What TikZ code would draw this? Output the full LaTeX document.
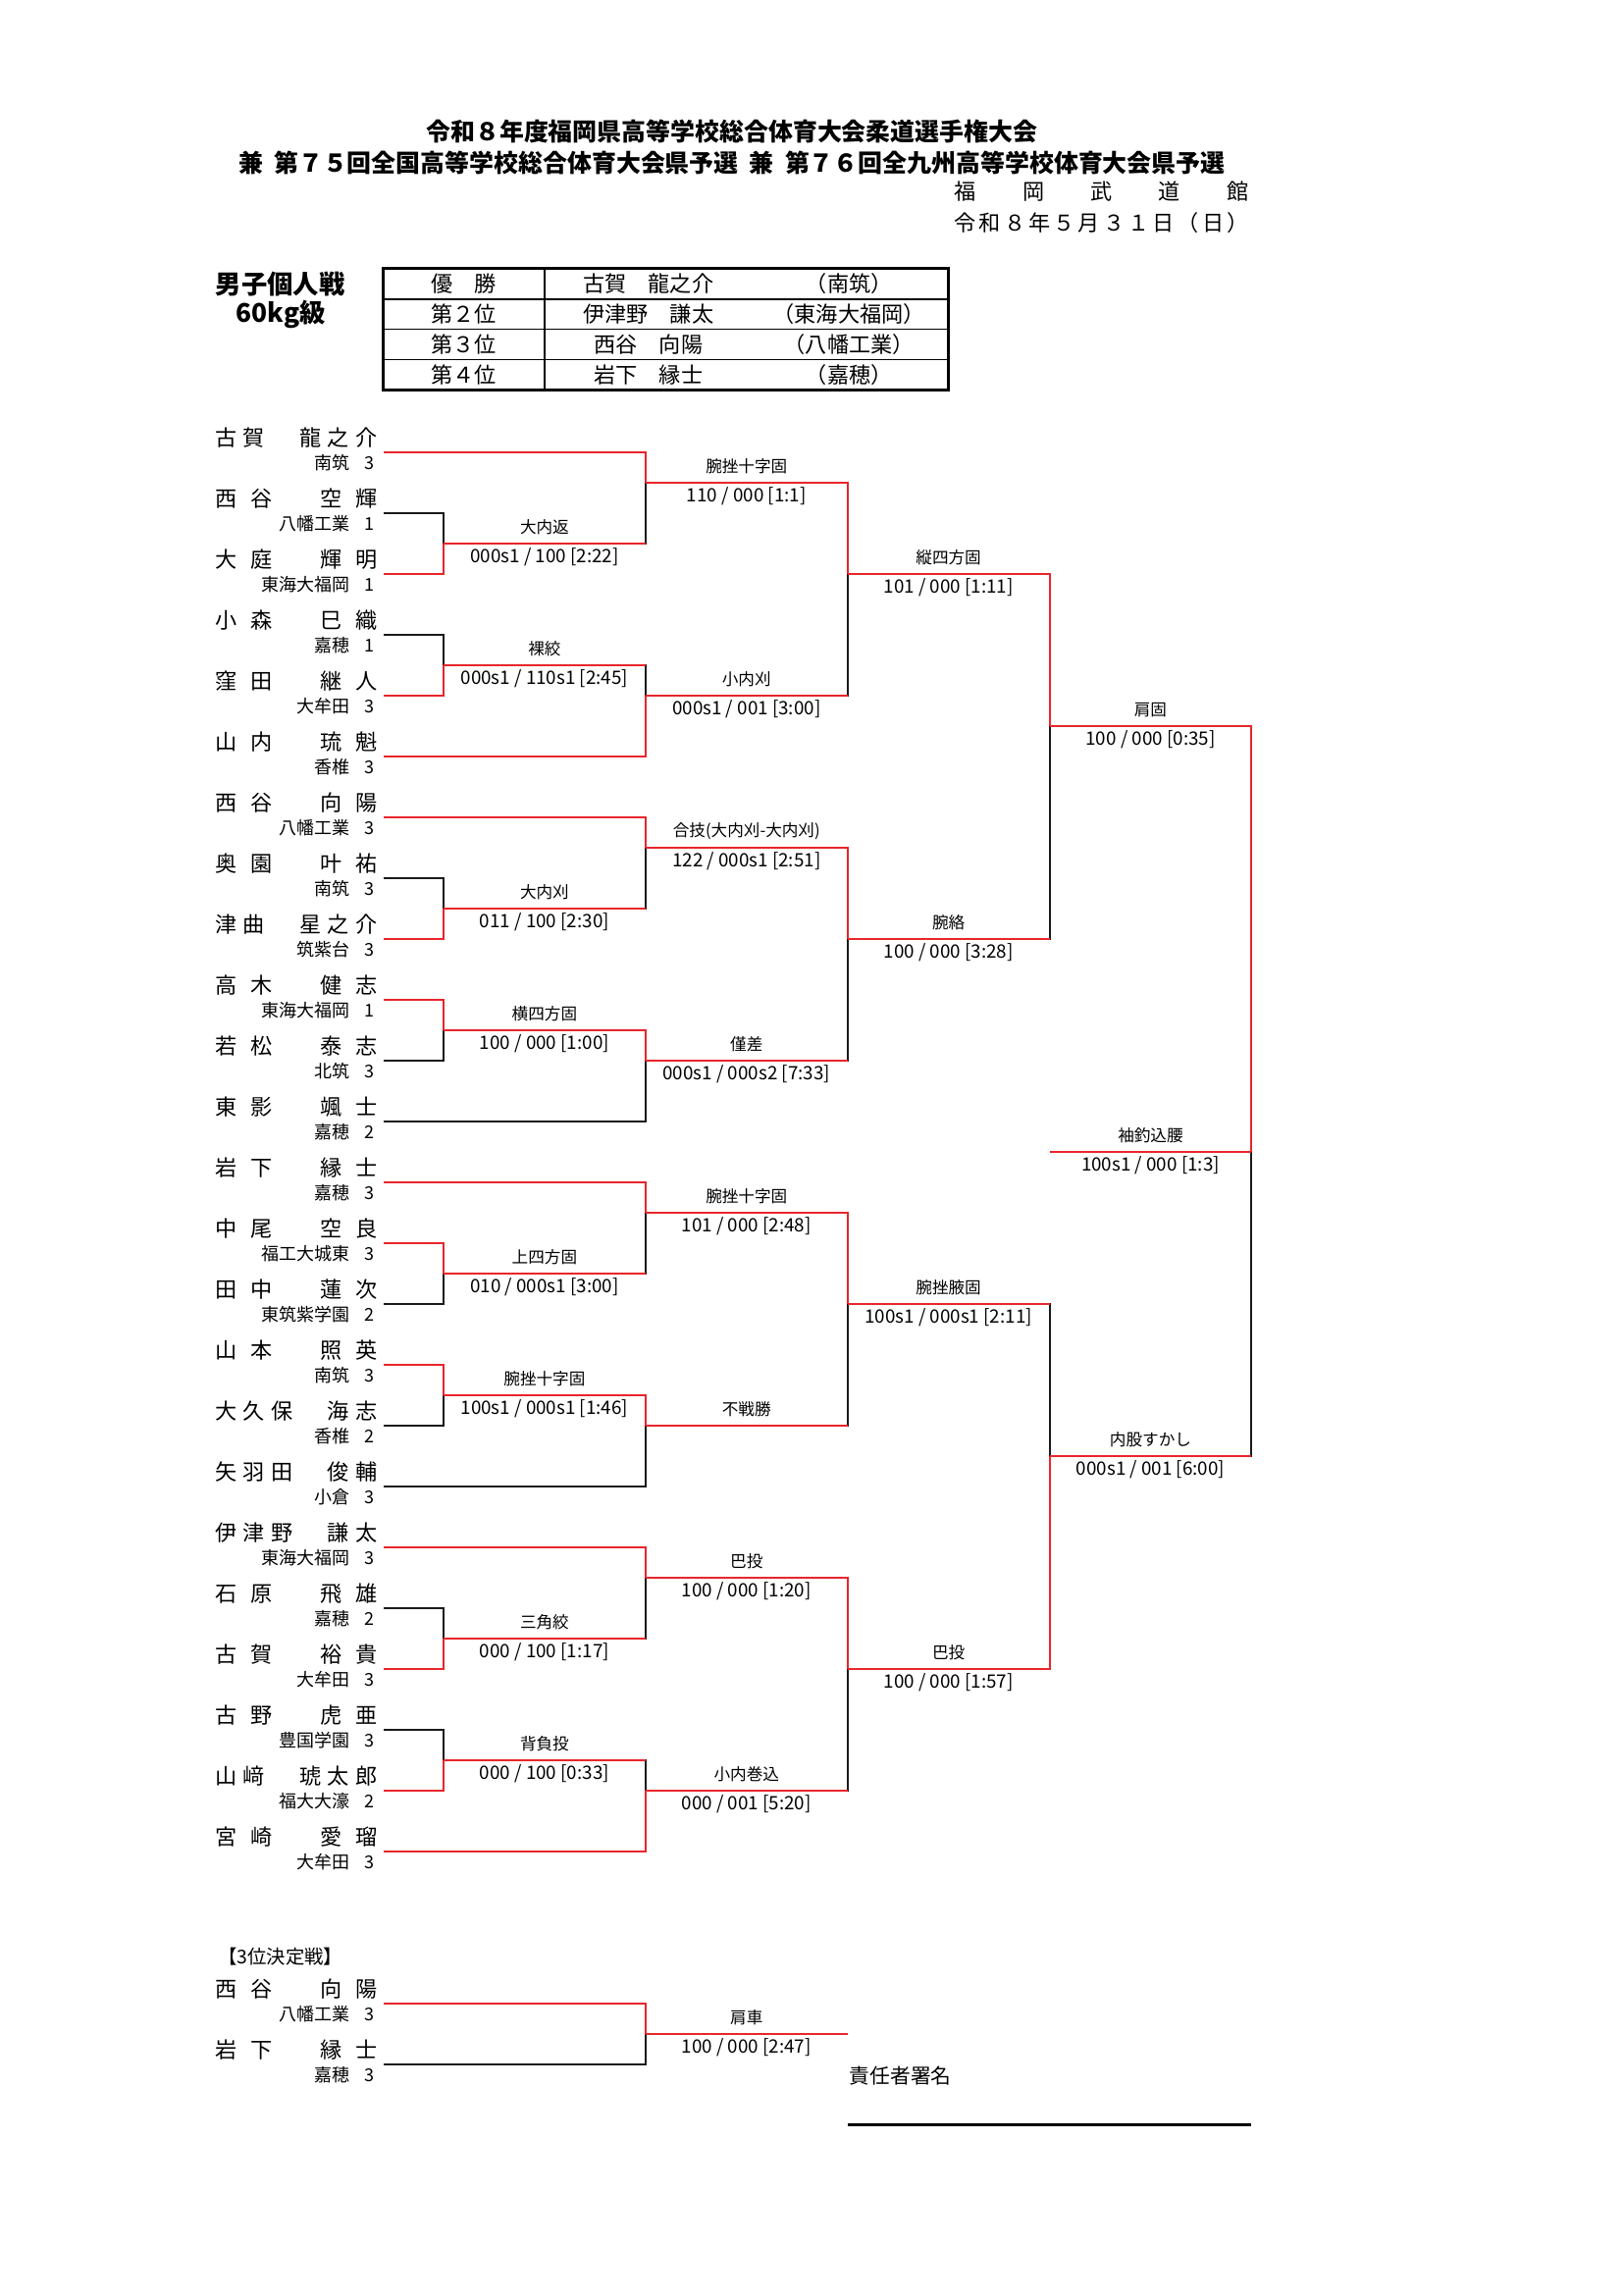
\documentclass[tikz,border=0pt]{standalone}
\usepackage{fontspec}
\setmainfont{Noto Sans CJK JP}
\usepackage{xcolor}
\usepackage{tikz}
\usetikzlibrary{calc}
\definecolor{cWin}{HTML}{E8262B}
\definecolor{cLose}{HTML}{1A1A1A}
\newcommand{\fsz}[1]{\fontsize{#1}{#1}\selectfont}
\makeatletter
\newcommand{\spreadtxt}[2]{\hbox to #1{\spread@a#2\relax}}
\def\spread@a#1{#1\futurelet\spread@next\spread@b}
\def\spread@b{\ifx\spread@next\relax\expandafter\@gobble\else\hfill\expandafter\spread@a\fi}
\makeatother

\begin{document}
\begin{tikzpicture}[x=0.18936mm,y=-0.18936mm,
  nm/.style={inner sep=0pt,font=\fsz{8}},
  sc/.style={inner sep=0pt,anchor=east,font=\fsz{6.5}},
  tb/.style={inner sep=0pt,font=\fsz{8}},
  waza/.style={inner sep=0pt,font=\fsz{6}},
  pts/.style={inner sep=0pt,font=\fsz{6.8}},
  win/.style={draw=cWin,line width=0.75pt},
  lose/.style={draw=cLose,line width=0.75pt}]

  \useasboundingbox (0,0) rectangle (1109,1568);

  % heading
  \node[font=\fsz{9}\bfseries] (ttl1) at (500,90)
    {令和８年度福岡県高等学校総合体育大会柔道選手権大会};
  \node[font=\fsz{9}\bfseries] (ttl2) at (500,111)
    {兼\hspace{.45em}第７５回全国高等学校総合体育大会県予選\hspace{.45em}兼\hspace{.45em}第７６回全九州高等学校体育大会県予選};
  \node[tb] (ven) at (752.5,131) {\spreadtxt{38.06mm}{福岡武道館}};
  \node[tb] (day) at (752.5,152) {\spreadtxt{38.06mm}{令和８年５月３１日（日）}};

  \node[font=\fsz{9.5}\bfseries] (evt) at (191.5,194) {男子個人戦};
  \node[font=\fsz{9.5}\bfseries] (cls) at (192,215) {60kg級};

  % result table
  \draw[line width=1pt] (262,183.5) rectangle (648,266.5);
  \draw[line width=0.6pt] (262,204.3) -- (648,204.3) (262,225) -- (648,225)
    (262,245.8) -- (648,245.8) (372,183.5) -- (372,266.5);
  \node[tb] (r1a) at (317,194) {優　勝};
  \node[tb] (r1b) at (443,194) {古賀　龍之介};
  \node[tb] (r1c) at (580,194) {（南筑）};
  \node[tb] (r2a) at (317,214.6) {第２位};
  \node[tb] (r2b) at (443,214.6) {伊津野　謙太};
  \node[tb] (r2c) at (580,214.6) {（東海大福岡）};
  \node[tb] (r3a) at (317,235.4) {第３位};
  \node[tb] (r3b) at (443,235.4) {西谷　向陽};
  \node[tb] (r3c) at (580,235.4) {（八幡工業）};
  \node[tb] (r4a) at (317,256) {第４位};
  \node[tb] (r4b) at (443,256) {岩下　縁士};
  \node[tb] (r4c) at (580,256) {（嘉穂）};

  % players
  \coordinate (p1) at (262,309);    \node[nm] (nm1) at (202.5,299) {\spreadtxt{21mm}{古賀　龍之介}};
  \node[sc] (sc1) at (256,316) {南筑\hspace{1.9mm}3};
  \coordinate (p2) at (262,350.6);  \node[nm] (nm2) at (202.5,340.6) {\spreadtxt{21mm}{西谷　空輝}};
  \node[sc] (sc2) at (256,357.6) {八幡工業\hspace{1.9mm}1};
  \coordinate (p3) at (262,392.1);  \node[nm] (nm3) at (202.5,382.1) {\spreadtxt{21mm}{大庭　輝明}};
  \node[sc] (sc3) at (256,399.1) {東海大福岡\hspace{1.9mm}1};
  \coordinate (p4) at (262,433.7);  \node[nm] (nm4) at (202.5,423.7) {\spreadtxt{21mm}{小森　巳織}};
  \node[sc] (sc4) at (256,440.7) {嘉穂\hspace{1.9mm}1};
  \coordinate (p5) at (262,475.2);  \node[nm] (nm5) at (202.5,465.2) {\spreadtxt{21mm}{窪田　継人}};
  \node[sc] (sc5) at (256,482.2) {大牟田\hspace{1.9mm}3};
  \coordinate (p6) at (262,516.8);  \node[nm] (nm6) at (202.5,506.8) {\spreadtxt{21mm}{山内　琉魁}};
  \node[sc] (sc6) at (256,523.8) {香椎\hspace{1.9mm}3};
  \coordinate (p7) at (262,558.4);  \node[nm] (nm7) at (202.5,548.4) {\spreadtxt{21mm}{西谷　向陽}};
  \node[sc] (sc7) at (256,565.4) {八幡工業\hspace{1.9mm}3};
  \coordinate (p8) at (262,599.9);  \node[nm] (nm8) at (202.5,589.9) {\spreadtxt{21mm}{奥園　叶祐}};
  \node[sc] (sc8) at (256,606.9) {南筑\hspace{1.9mm}3};
  \coordinate (p9) at (262,641.5);  \node[nm] (nm9) at (202.5,631.5) {\spreadtxt{21mm}{津曲　星之介}};
  \node[sc] (sc9) at (256,648.5) {筑紫台\hspace{1.9mm}3};
  \coordinate (p10) at (262,683);   \node[nm] (nm10) at (202.5,673) {\spreadtxt{21mm}{高木　健志}};
  \node[sc] (sc10) at (256,690) {東海大福岡\hspace{1.9mm}1};
  \coordinate (p11) at (262,724.6); \node[nm] (nm11) at (202.5,714.6) {\spreadtxt{21mm}{若松　泰志}};
  \node[sc] (sc11) at (256,731.6) {北筑\hspace{1.9mm}3};
  \coordinate (p12) at (262,766.2); \node[nm] (nm12) at (202.5,756.2) {\spreadtxt{21mm}{東影　颯士}};
  \node[sc] (sc12) at (256,773.2) {嘉穂\hspace{1.9mm}2};
  \coordinate (p13) at (262,807.7); \node[nm] (nm13) at (202.5,797.7) {\spreadtxt{21mm}{岩下　縁士}};
  \node[sc] (sc13) at (256,814.7) {嘉穂\hspace{1.9mm}3};
  \coordinate (p14) at (262,849.3); \node[nm] (nm14) at (202.5,839.3) {\spreadtxt{21mm}{中尾　空良}};
  \node[sc] (sc14) at (256,856.3) {福工大城東\hspace{1.9mm}3};
  \coordinate (p15) at (262,890.8); \node[nm] (nm15) at (202.5,880.8) {\spreadtxt{21mm}{田中　蓮次}};
  \node[sc] (sc15) at (256,897.8) {東筑紫学園\hspace{1.9mm}2};
  \coordinate (p16) at (262,932.4); \node[nm] (nm16) at (202.5,922.4) {\spreadtxt{21mm}{山本　照英}};
  \node[sc] (sc16) at (256,939.4) {南筑\hspace{1.9mm}3};
  \coordinate (p17) at (262,974);   \node[nm] (nm17) at (202.5,964) {\spreadtxt{21mm}{大久保　海志}};
  \node[sc] (sc17) at (256,981) {香椎\hspace{1.9mm}2};
  \coordinate (p18) at (262,1015.5); \node[nm] (nm18) at (202.5,1005.5) {\spreadtxt{21mm}{矢羽田　俊輔}};
  \node[sc] (sc18) at (256,1022.5) {小倉\hspace{1.9mm}3};
  \coordinate (p19) at (262,1057.1); \node[nm] (nm19) at (202.5,1047.1) {\spreadtxt{21mm}{伊津野　謙太}};
  \node[sc] (sc19) at (256,1064.1) {東海大福岡\hspace{1.9mm}3};
  \coordinate (p20) at (262,1098.6); \node[nm] (nm20) at (202.5,1088.6) {\spreadtxt{21mm}{石原　飛雄}};
  \node[sc] (sc20) at (256,1105.6) {嘉穂\hspace{1.9mm}2};
  \coordinate (p21) at (262,1140.2); \node[nm] (nm21) at (202.5,1130.2) {\spreadtxt{21mm}{古賀　裕貴}};
  \node[sc] (sc21) at (256,1147.2) {大牟田\hspace{1.9mm}3};
  \coordinate (p22) at (262,1181.8); \node[nm] (nm22) at (202.5,1171.8) {\spreadtxt{21mm}{古野　虎亜}};
  \node[sc] (sc22) at (256,1188.8) {豊国学園\hspace{1.9mm}3};
  \coordinate (p23) at (262,1223.3); \node[nm] (nm23) at (202.5,1213.3) {\spreadtxt{21mm}{山﨑　琥太郎}};
  \node[sc] (sc23) at (256,1230.3) {福大大濠\hspace{1.9mm}2};
  \coordinate (p24) at (262,1264.9); \node[nm] (nm24) at (202.5,1254.9) {\spreadtxt{21mm}{宮崎　愛瑠}};
  \node[sc] (sc24) at (256,1271.9) {大牟田\hspace{1.9mm}3};

  % match points (junction, winner line)
  \coordinate (m1) at (303,371.3);   \coordinate (m2) at (441,329.8);
  \coordinate (m3) at (303,454.5);   \coordinate (m4) at (441,475.2);
  \coordinate (m5) at (579,392.1);
  \coordinate (m6) at (303,620.7);   \coordinate (m7) at (441,579.1);
  \coordinate (m8) at (303,703.8);   \coordinate (m9) at (441,724.6);
  \coordinate (m10) at (579,641.5);  \coordinate (m11) at (717,496);
  \coordinate (m12) at (303,870.1);  \coordinate (m13) at (441,828.5);
  \coordinate (m14) at (303,953.2);  \coordinate (m15) at (441,974);
  \coordinate (m16) at (579,890.8);
  \coordinate (m17) at (303,1119.4); \coordinate (m18) at (441,1077.9);
  \coordinate (m19) at (303,1202.5); \coordinate (m20) at (441,1223.3);
  \coordinate (m21) at (579,1140.2); \coordinate (m22) at (717,994.7);
  \coordinate (m23) at (855,787);    \coordinate (champ) at (717,787);

  % losers
  \draw[lose] (p2) -| (m1);   \draw[lose] (p4) -| (m3);
  \draw[lose] (p8) -| (m6);   \draw[lose] (p11) -| (m8);
  \draw[lose] (p15) -| (m12); \draw[lose] (p17) -| (m14);
  \draw[lose] (p20) -| (m17); \draw[lose] (p22) -| (m19);
  \draw[lose] (p12) -| (m9);  \draw[lose] (p18) -| (m15);
  \draw[lose] (m1) -| (m2);   \draw[lose] (m3) -| (m4);
  \draw[lose] (m4) -| (m5);   \draw[lose] (m6) -| (m7);
  \draw[lose] (m9) -| (m10);  \draw[lose] (m10) -| (m11);
  \draw[lose] (m12) -| (m13); \draw[lose] (m15) -| (m16);
  \draw[lose] (m16) -| (m22); \draw[lose] (m17) -| (m18);
  \draw[lose] (m19) -| (m20); \draw[lose] (m20) -| (m21);
  \draw[lose] (m22) -| (m23);

  % winners
  \draw[win] (p3) -| (m1);    \draw[win] (p1) -| (m2);
  \draw[win] (p5) -| (m3);    \draw[win] (p6) -| (m4);
  \draw[win] (m2) -| (m5);
  \draw[win] (p9) -| (m6);    \draw[win] (p7) -| (m7);
  \draw[win] (p10) -| (m8);   \draw[win] (m8) -| (m9);
  \draw[win] (m7) -| (m10);   \draw[win] (m5) -| (m11);
  \draw[win] (p14) -| (m12);  \draw[win] (p13) -| (m13);
  \draw[win] (p16) -| (m14);  \draw[win] (m14) -| (m15);
  \draw[win] (m13) -| (m16);
  \draw[win] (p21) -| (m17);  \draw[win] (p19) -| (m18);
  \draw[win] (p23) -| (m19);  \draw[win] (p24) -| (m20);
  \draw[win] (m18) -| (m21);  \draw[win] (m21) -| (m22);
  \draw[win] (m11) -| (m23);  \draw[win] (m23) -- (champ);

  % a lost bout keeps its own line red
  \draw[win] (m1) -- (m1 -| m2);    \draw[win] (m3) -- (m3 -| m4);
  \draw[win] (m4) -- (m4 -| m5);    \draw[win] (m6) -- (m6 -| m7);
  \draw[win] (m9) -- (m9 -| m10);   \draw[win] (m10) -- (m10 -| m11);
  \draw[win] (m12) -- (m12 -| m13); \draw[win] (m15) -- (m15 -| m16);
  \draw[win] (m16) -- (m16 -| m22); \draw[win] (m17) -- (m17 -| m18);
  \draw[win] (m19) -- (m19 -| m20); \draw[win] (m20) -- (m20 -| m21);
  \draw[win] (m22) -- (m22 -| m23);

  % techniques and scores
  \node[waza] (wz1) at ($(m1)+(69,-11)$) {大内返};
  \node[pts] (pt1) at ($(m1)+(69,9.5)$) {000s1 / 100 [2:22]};
  \node[waza] (wz2) at ($(m2)+(69,-11)$) {腕挫十字固};
  \node[pts] (pt2) at ($(m2)+(69,9.5)$) {110 / 000 [1:1]};
  \node[waza] (wz3) at ($(m3)+(69,-11)$) {裸絞};
  \node[pts] (pt3) at ($(m3)+(69,9.5)$) {000s1 / 110s1 [2:45]};
  \node[waza] (wz4) at ($(m4)+(69,-11)$) {小内刈};
  \node[pts] (pt4) at ($(m4)+(69,9.5)$) {000s1 / 001 [3:00]};
  \node[waza] (wz5) at ($(m5)+(69,-11)$) {縦四方固};
  \node[pts] (pt5) at ($(m5)+(69,9.5)$) {101 / 000 [1:11]};
  \node[waza] (wz6) at ($(m6)+(69,-11)$) {大内刈};
  \node[pts] (pt6) at ($(m6)+(69,9.5)$) {011 / 100 [2:30]};
  \node[waza] (wz7) at ($(m7)+(69,-11)$) {合技(大内刈-大内刈)};
  \node[pts] (pt7) at ($(m7)+(69,9.5)$) {122 / 000s1 [2:51]};
  \node[waza] (wz8) at ($(m8)+(69,-11)$) {横四方固};
  \node[pts] (pt8) at ($(m8)+(69,9.5)$) {100 / 000 [1:00]};
  \node[waza] (wz9) at ($(m9)+(69,-11)$) {僅差};
  \node[pts] (pt9) at ($(m9)+(69,9.5)$) {000s1 / 000s2 [7:33]};
  \node[waza] (wz10) at ($(m10)+(69,-11)$) {腕絡};
  \node[pts] (pt10) at ($(m10)+(69,9.5)$) {100 / 000 [3:28]};
  \node[waza] (wz11) at ($(m11)+(69,-11)$) {肩固};
  \node[pts] (pt11) at ($(m11)+(69,9.5)$) {100 / 000 [0:35]};
  \node[waza] (wz12) at ($(m12)+(69,-11)$) {上四方固};
  \node[pts] (pt12) at ($(m12)+(69,9.5)$) {010 / 000s1 [3:00]};
  \node[waza] (wz13) at ($(m13)+(69,-11)$) {腕挫十字固};
  \node[pts] (pt13) at ($(m13)+(69,9.5)$) {101 / 000 [2:48]};
  \node[waza] (wz14) at ($(m14)+(69,-11)$) {腕挫十字固};
  \node[pts] (pt14) at ($(m14)+(69,9.5)$) {100s1 / 000s1 [1:46]};
  \node[waza] (wz15) at ($(m15)+(69,-11)$) {不戦勝};
  \node[waza] (wz16) at ($(m16)+(69,-11)$) {腕挫腋固};
  \node[pts] (pt16) at ($(m16)+(69,9.5)$) {100s1 / 000s1 [2:11]};
  \node[waza] (wz17) at ($(m17)+(69,-11)$) {三角絞};
  \node[pts] (pt17) at ($(m17)+(69,9.5)$) {000 / 100 [1:17]};
  \node[waza] (wz18) at ($(m18)+(69,-11)$) {巴投};
  \node[pts] (pt18) at ($(m18)+(69,9.5)$) {100 / 000 [1:20]};
  \node[waza] (wz19) at ($(m19)+(69,-11)$) {背負投};
  \node[pts] (pt19) at ($(m19)+(69,9.5)$) {000 / 100 [0:33]};
  \node[waza] (wz20) at ($(m20)+(69,-11)$) {小内巻込};
  \node[pts] (pt20) at ($(m20)+(69,9.5)$) {000 / 001 [5:20]};
  \node[waza] (wz21) at ($(m21)+(69,-11)$) {巴投};
  \node[pts] (pt21) at ($(m21)+(69,9.5)$) {100 / 000 [1:57]};
  \node[waza] (wz22) at ($(m22)+(69,-11)$) {内股すかし};
  \node[pts] (pt22) at ($(m22)+(69,9.5)$) {000s1 / 001 [6:00]};
  \node[waza] (wz23) at ($(m23)+(-69,-11)$) {袖釣込腰};
  \node[pts] (pt23) at ($(m23)+(-69,9.5)$) {100s1 / 000 [1:3]};

  % third place bout
  \node[font=\fsz{7}] (thd) at (191.5,1337) {【3位決定戦】};
  \coordinate (q1) at (262,1368.8); \node[nm] (nq1) at (202.5,1358.8) {\spreadtxt{21mm}{西谷　向陽}};
  \node[sc] (sq1) at (256,1375.8) {八幡工業\hspace{1.9mm}3};
  \coordinate (q2) at (262,1410.3); \node[nm] (nq2) at (202.5,1400.3) {\spreadtxt{21mm}{岩下　縁士}};
  \node[sc] (sq2) at (256,1417.3) {嘉穂\hspace{1.9mm}3};
  \coordinate (m24) at (441,1389.6); \coordinate (q3) at (579,1389.6);
  \draw[lose] (q2) -| (m24);
  \draw[win] (q1) -| (m24);
  \draw[win] (m24) -- (q3);
  \node[waza] (wz24) at ($(m24)+(69,-11)$) {肩車};
  \node[pts] (pt24) at ($(m24)+(69,9.5)$) {100 / 000 [2:47]};

  % signature
  \node[font=\fsz{7.5},anchor=west,inner sep=0pt] (sig) at (580,1418) {責任者署名};
  \coordinate (sg1) at (579,1451.9); \coordinate (sg2) at (855,1451.9);
  \draw[line width=1pt] (sg1) -- (sg2);
\end{tikzpicture}
\end{document}
